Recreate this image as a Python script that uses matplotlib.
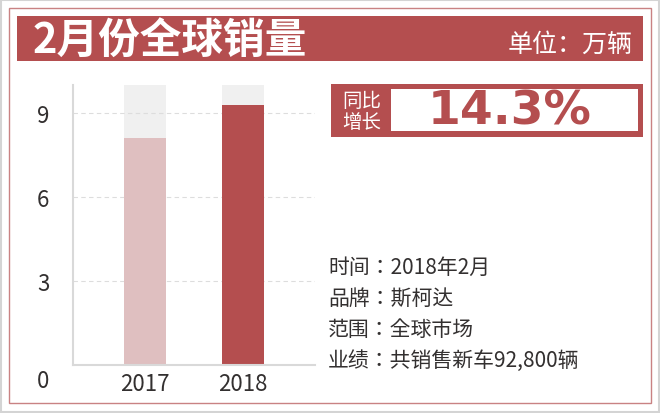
import matplotlib
matplotlib.use("Agg")
import matplotlib.pyplot as plt
from matplotlib.patches import Rectangle

plt.rcParams['font.family'] = ['Noto Sans CJK SC', 'DejaVu Sans']

# data (万辆)
years = ['2017', '2018']
sales = [8.12, 9.28]
track_max = [10, 10]
y_ticks = [3, 6, 9]
growth = '14.3%'
title = '2月份全球销量'
unit = '单位：万辆'
info_lines = ['时间：2018年2月', '品牌：斯柯达', '范围：全球市场', '业绩：共销售新车92,800辆']

RED = '#b44e4f'
PINK = '#dfbfc0'
TRACK = '#f0f0f0'
TEXT = '#333030'

W, H = 660, 414
fig = plt.figure(figsize=(W / 100, H / 100), dpi=100)

# background layer in pixel coords
bg = fig.add_axes([0, 0, 1, 1], zorder=0)
bg.set_xlim(0, W)
bg.set_ylim(H, 0)
bg.axis('off')

bg.add_patch(Rectangle((1, 1), W - 2, H - 2, fill=False, ec='#d4d4d4', lw=1.5))
bg.add_patch(Rectangle((9, 9), 642, 395, fill=False, ec='#c98283', lw=1))
bg.add_patch(Rectangle((17, 17), 626, 45, fc=RED, ec='none'))
bg.text(33, 41, title, color='white', fontsize=30, fontweight='bold', ha='left', va='center')
bg.text(633, 45, unit, color='white', fontsize=18, ha='right', va='center')

# growth badge
bg.add_patch(Rectangle((331, 85), 312, 53, fc=RED, ec='none'))
bg.add_patch(Rectangle((391, 90), 247, 42, fc='white', ec='none'))
bg.text(362, 112, '同比\n增长', color='white', fontsize=14, ha='center', va='center', linespacing=1.0)
bg.text(510, 112, growth, color=RED, fontsize=34, fontweight='bold', family='DejaVu Sans',
        ha='center', va='center')

# info text (JP face keeps the full-width colon centred)
for i, line in enumerate(info_lines):
    bg.text(328, 268 + i * 31, line, color=TEXT, fontsize=15, ha='left', va='center',
            family=['Noto Sans CJK JP', 'Noto Sans CJK SC'])

# bar chart
ax = fig.add_axes([73 / W, (H - 366) / H, 242 / W, 280 / H], zorder=1)
ax.patch.set_alpha(0)
x = list(range(len(years)))
ax.bar(x, track_max, width=0.43, color=TRACK, zorder=1)
ax.bar(x, sales, width=0.43, color=[PINK, RED], zorder=2)
ax.set_xlim(-0.735, 1.735)
ax.set_ylim(0, 10)
ax.set_yticks(y_ticks)
ax.set_yticklabels([str(v) for v in y_ticks])
ax.set_xticks(x)
ax.set_xticklabels(years)
ax.tick_params(length=0, labelsize=16, colors=TEXT)
ax.tick_params(axis='y', pad=17)
ax.tick_params(axis='x', pad=5)
ax.grid(axis='y', ls=(0, (4, 3)), color='#dddddd', lw=0.8, zorder=0)
for s in ['top', 'right']:
    ax.spines[s].set_visible(False)
for s in ['left', 'bottom']:
    ax.spines[s].set_color('#d9d9d9')
    ax.spines[s].set_linewidth(1.5)
bg.text(43, 382, '0', color=TEXT, fontsize=16, ha='center', va='center')

fig.savefig('out.png', dpi=100)
